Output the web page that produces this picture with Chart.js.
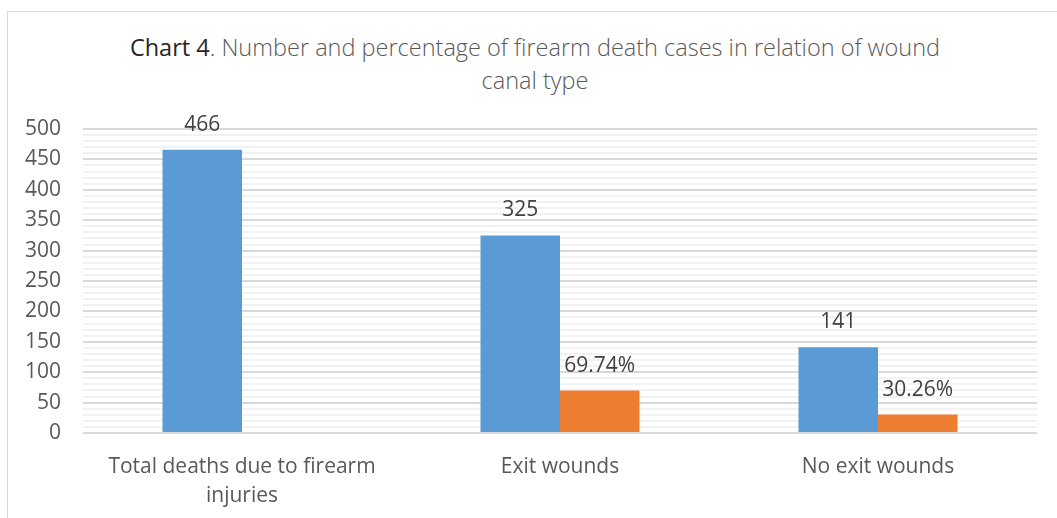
<!DOCTYPE html>
<html>
<head>
<meta charset="utf-8">
<script src="https://cdn.jsdelivr.net/npm/chart.js@4"></script>
<style>
  body{margin:0;background:#fff;width:1057px;height:518px;overflow:hidden;position:relative;font-family:"Open Sans",sans-serif}
  #frame{position:absolute;left:7px;top:11px;width:1080px;height:540px;border:1px solid #d9d9d9;box-sizing:border-box}
  #title{position:absolute;left:0;top:31px;width:1070px;text-align:center;font-size:23.5px;line-height:33px;color:#595959;font-weight:300}
  #title b{font-weight:400;color:#262626}
  #wrap{position:absolute;left:0;top:0;width:1057px;height:518px}
</style>
</head>
<body>
<div id="frame"></div>
<div id="title"><b>Chart 4</b>. Number and percentage of firearm death cases in relation of wound<br>canal type</div>
<div id="wrap"><canvas id="chart" width="1057" height="518"></canvas></div>
<script>
const categories=[['Total deaths due to firearm','injuries'],'Exit wounds','No exit wounds']
const counts=[466,325,141]
const percents=[null,69.74,30.26]
const yTicks=[0,50,100,150,200,250,300,350,400,450,500]
const fontFam='"Open Sans", sans-serif'

// draws the value labels over the bars like excel does
const labelPlugin={
  id:'barLabels',
  afterDatasetsDraw(chart){
    const ctx=chart.ctx
    ctx.save()
    ctx.font='21px '+fontFam
    ctx.fillStyle='#404040'
    ctx.textAlign='center'
    ctx.textBaseline='middle'
    chart.data.datasets.forEach((ds,i)=>{
      const meta=chart.getDatasetMeta(i)
      meta.data.forEach((bar,j)=>{
        const v=ds.data[j]
        if (v==null) return
        const txt=i==0 ? String(v) : v.toFixed(2)+'%'
        ctx.fillText(txt,bar.x,bar.y-25)
      })
    })
    ctx.restore()
  }
}

new Chart(document.getElementById('chart'),{
  type:'bar',
  data:{
    labels:categories,
    datasets:[
      {label:'Number',data:counts,backgroundColor:'#5b9bd5'},
      {label:'Percentage',data:percents,backgroundColor:'#ed7d31'}
    ]
  },
  options:{
    responsive:false,
    animation:false,
    devicePixelRatio:1,
    layout:{padding:{left:0,right:20,top:129,bottom:0}},
    datasets:{bar:{categoryPercentage:0.5,barPercentage:1}},
    plugins:{legend:{display:false},tooltip:{enabled:false},title:{display:false}},
    scales:{
      x:{
        grid:{display:false},
        border:{display:false},
        ticks:{color:'#595959',font:{family:fontFam,size:21,lineHeight:1.38},padding:12,maxRotation:0,autoSkip:false},
        afterFit(s){s.height=85}
      },
      y:{
        min:0,max:500,
        border:{display:false},
        grid:{
          drawTicks:false,
          color:c=>c.tick && c.tick.value%50==0 ? '#d9d9d9' : '#f2f2f2',
          lineWidth:2
        },
        ticks:{
          stepSize:10,autoSkip:false,maxTicksLimit:100,padding:22,
          color:'#595959',font:{family:fontFam,size:21},
          callback:v=>yTicks.includes(v) ? v : ''
        },
        afterFit(s){s.width=83}
      }
    }
  },
  plugins:[labelPlugin]
})
</script>
</body>
</html>
